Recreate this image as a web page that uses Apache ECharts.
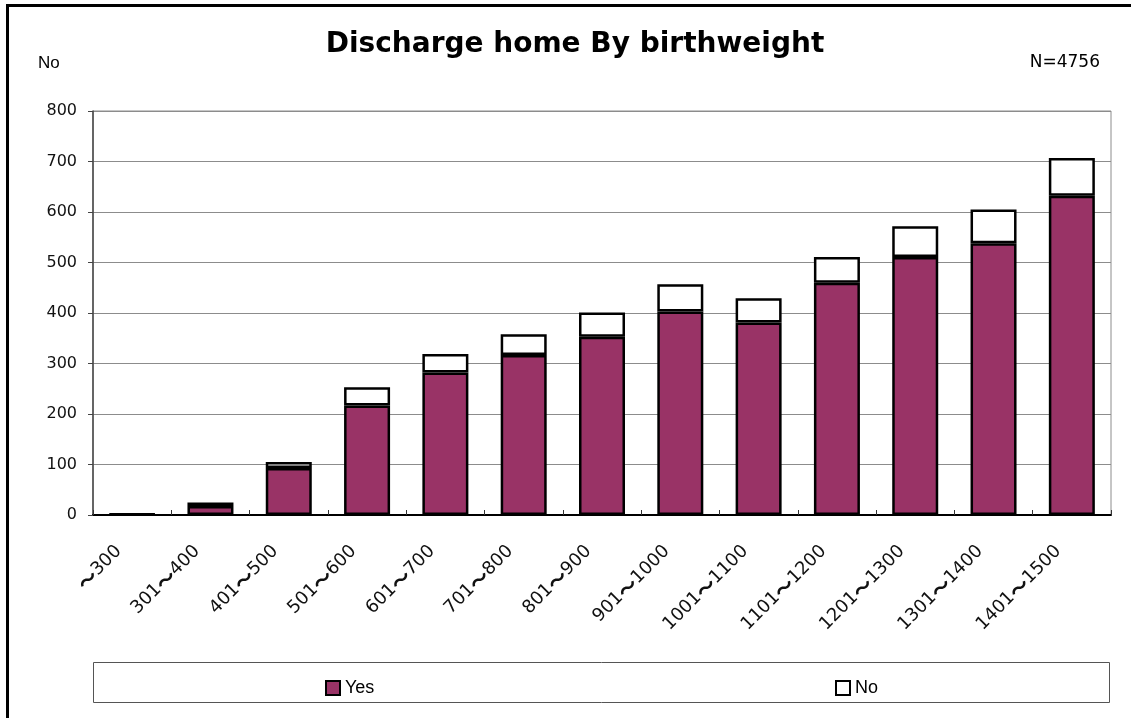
<!DOCTYPE html>
<html>
<head>
<meta charset="utf-8">
<script src="https://cdn.jsdelivr.net/npm/echarts@6/dist/echarts.min.js"></script>
<style>
  html, body { margin: 0; padding: 0; background: #fff; }
  #chart { width: 1131px; height: 718px; }
</style>
</head>
<body>
<div id="chart"></div>
<script>
const categories = ['～300', '301～400', '401～500', '501～600', '601～700', '701～800', '801～900',
  '901～1000', '1001～1100', '1101～1200', '1201～1300', '1301～1400', '1401～1500']
const yesValues = [1, 18, 93, 217, 282, 317, 353, 403, 381, 460, 511, 538, 632]
const noValues = [1, 7, 12, 36, 37, 41, 48, 54, 48, 51, 61, 67, 75]
const yTicks = { min: 0, max: 800, interval: 100 }

const chart = echarts.init(document.getElementById('chart'))

const barBorder = { borderColor: '#000', borderWidth: 2.5 }

// wave dash drawn in a CJK font, numbers in a latin one
const fmtLabel = s => s.split('～').map(p => p ? '{n|' + p + '}' : '').join('{t|～}')

chart.setOption({
  animation: false,
  backgroundColor: '#fff',
  grid: {
    left: 93, right: 20, top: 111, bottom: 203,
    show: true, borderColor: '#8c8c8c', borderWidth: 1,
    outerBoundsMode: 'none'
  },
  graphic: [
    { type: 'line', shape: { x1: 6, y1: 5.5, x2: 1131, y2: 5.5 }, style: { stroke: '#000', lineWidth: 3 } },
    { type: 'line', shape: { x1: 7.5, y1: 4, x2: 7.5, y2: 718 }, style: { stroke: '#000', lineWidth: 3 } },
    { type: 'text', x: 575, y: 45, style: { text: 'Discharge home By birthweight', font: 'bold 28px "DejaVu Sans"', fill: '#000', textAlign: 'center', textVerticalAlign: 'middle' } },
    { type: 'text', x: 38, y: 63, style: { text: 'No', font: '17px "Liberation Sans"', fill: '#000', textVerticalAlign: 'middle' } },
    { type: 'text', x: 1100, y: 63, style: { text: 'N=4756', font: '17px "DejaVu Sans"', fill: '#000', textAlign: 'right', textVerticalAlign: 'middle' } },
    { type: 'rect', shape: { x: 93.5, y: 662.5, width: 1016, height: 40 }, style: { fill: 'none', stroke: '#555', lineWidth: 1 }, z: -1 }
  ],
  legend: [
    { data: ['Yes'], left: 320, top: 674, icon: 'rect', itemWidth: 14, itemHeight: 14, itemGap: 6,
      textStyle: { fontSize: 18, fontFamily: 'Liberation Sans', color: '#000' } },
    { data: ['No'], left: 830, top: 674, icon: 'rect', itemWidth: 14, itemHeight: 14, itemGap: 6,
      textStyle: { fontSize: 18, fontFamily: 'Liberation Sans', color: '#000' } }
  ],
  xAxis: {
    type: 'category',
    data: categories,
    axisLine: { lineStyle: { color: '#000', width: 2 } },
    axisTick: { show: true, inside: true, length: 5, alignWithLabel: false, lineStyle: { color: '#333' } },
    axisLabel: {
      rotate: 45, margin: 20, padding: [0, 19, 0, 0], interval: 0, color: '#111',
      formatter: fmtLabel,
      rich: {
        n: { fontSize: 18, fontFamily: 'DejaVu Sans', color: '#111' },
        t: { fontSize: 20, fontFamily: 'Noto Sans CJK JP', fontWeight: 'bold', color: '#111' }
      }
    }
  },
  yAxis: {
    type: 'value',
    min: yTicks.min, max: yTicks.max, interval: yTicks.interval,
    axisLine: { show: true, lineStyle: { color: '#444', width: 1.5 } },
    axisTick: { show: true, length: 5, lineStyle: { color: '#444' } },
    axisLabel: { margin: 16, fontSize: 16, fontFamily: 'DejaVu Sans', color: '#111' },
    splitLine: { lineStyle: { color: '#8c8c8c', width: 1 } }
  },
  series: [
    {
      name: 'Yes', type: 'bar', stack: 'total', barWidth: 46,
      itemStyle: { color: '#993366', ...barBorder },
      data: yesValues
    },
    {
      name: 'No', type: 'bar', stack: 'total', barWidth: 46,
      itemStyle: { color: '#ffffff', ...barBorder },
      data: noValues
    }
  ]
})
</script>
</body>
</html>
